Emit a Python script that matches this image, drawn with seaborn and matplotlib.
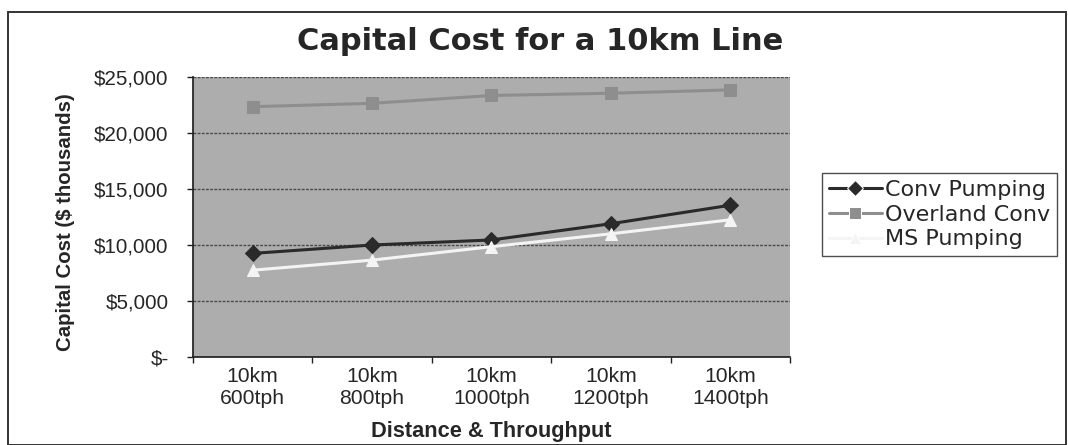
import matplotlib
matplotlib.use("Agg")
import matplotlib.pyplot as plt
import matplotlib.ticker as mticker
from matplotlib.patches import Rectangle
import seaborn as sns
import pandas as pd

categories = ["10km\n600tph", "10km\n800tph", "10km\n1000tph", "10km\n1200tph", "10km\n1400tph"]
conv_pumping = [9250, 10000, 10450, 11900, 13550]
overland_conv = [22350, 22650, 23350, 23550, 23850]
ms_pumping = [7750, 8650, 9850, 11000, 12250]
series_names = ["Conv Pumping", "Overland Conv", "MS Pumping"]
y_ticks = [0, 5000, 10000, 15000, 20000, 25000]

rows = []
for name, vals in zip(series_names, [conv_pumping, overland_conv, ms_pumping]):
    for c, v in zip(categories, vals):
        rows.append({"cat": c, "cost": v, "series": name})
df = pd.DataFrame(rows)

sns.set_theme(style="white")
plt.rcParams["font.family"] = ["Liberation Sans", "DejaVu Sans"]

fig = plt.figure(figsize=(10.68, 4.45), dpi=100)
fig.patch.set_facecolor("white")
ax = fig.add_axes([193/1068, 1-357/445, (790-193)/1068, (357-77)/445])
ax.set_facecolor("#adadad")

palette = {"Conv Pumping": "#2a2a2a", "Overland Conv": "#8e8e8e", "MS Pumping": "#f4f4f4"}
sns.lineplot(data=df, x="cat", y="cost", hue="series", style="series",
             markers={"Conv Pumping": "D", "Overland Conv": "s", "MS Pumping": "^"},
             dashes=False, palette=palette, linewidth=2.2, markersize=8,
             ax=ax, sort=False, legend=True)
for ln, name in zip(ax.lines, series_names):
    ln.set_markeredgecolor(palette[name])

ax.set_ylim(0, 25000)
ax.set_xlim(-0.5, len(categories) - 0.5)
ax.set_yticks(y_ticks)
ax.yaxis.set_major_formatter(mticker.FuncFormatter(lambda v, p: "$-" if v == 0 else f"${v:,.0f}"))
ax.grid(axis="y", color="#4a4a4a", linewidth=1.0, linestyle=(0, (2, 1)))
ax.set_axisbelow(True)
for s in ["top", "right"]:
    ax.spines[s].set_visible(False)
ax.spines["left"].set_color("#222222")
ax.spines["bottom"].set_color("#222222")
ax.tick_params(axis="y", length=4.5, width=1, color="#222222", labelsize=14.8, pad=13, left=True)
ax.tick_params(axis="x", length=0, labelsize=15.2, pad=7)
ax.set_xticks(range(len(categories)))
ax.set_xticklabels(categories, linespacing=1.2)
ax.set_xticks([i - 0.5 for i in range(len(categories) + 1)], minor=True)
ax.tick_params(axis="x", which="minor", length=4.5, width=1, color="#222222", bottom=True)

ax.set_ylabel("Capital Cost ($ thousands)", fontsize=14.7, fontweight="bold", labelpad=4)
ax.yaxis.set_label_coords(75/1068, 0.5, transform=fig.transFigure)
ax.set_xlabel("Distance & Throughput", fontsize=15.7, fontweight="bold")
ax.xaxis.set_label_coords(491/1068, 1-431/445, transform=fig.transFigure)
ax.xaxis.label.set_va("center")
fig.text(540/1068, 1-42/445, "Capital Cost for a 10km Line", ha="center", va="center",
         fontsize=22, fontweight="bold", family="DejaVu Sans")

handles, labels = ax.get_legend_handles_labels()
leg = ax.legend(handles, labels, loc="upper left", bbox_to_anchor=(822/1068, 1-173/445),
                bbox_transform=fig.transFigure, frameon=True, fancybox=False,
                prop={"family": "DejaVu Sans", "size": 16},
                handlelength=2.4, handletextpad=0.15, labelspacing=0.22,
                borderpad=0.3, borderaxespad=0)
leg.get_frame().set_edgecolor("#222222")
leg.get_frame().set_linewidth(1.0)

fig.patches.append(Rectangle((8/1068, 0), (1066-8)/1068, 1-12/445, transform=fig.transFigure,
                             fill=False, edgecolor="#333333", linewidth=1.4))

fig.savefig("out.png", dpi=100)
